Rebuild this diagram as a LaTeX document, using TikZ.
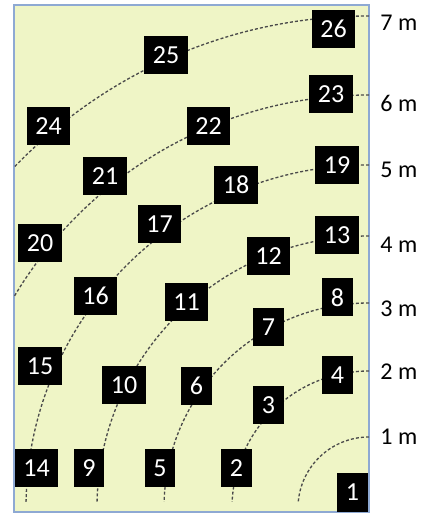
\documentclass[tikz,border=0pt]{standalone}
\usepackage{fontspec}
\setmainfont{Carlito}
\usepackage{tikz}
\usetikzlibrary{positioning,calc}
\definecolor{fieldGreen}{HTML}{EFF5C6}
\definecolor{edgeBlue}{HTML}{8EA9D3}
\definecolor{ringGrey}{HTML}{4A4A4A}

\begin{document}
\begin{tikzpicture}[
  field/.style={draw=edgeBlue,fill=fieldGreen,line width=0.8pt},
  ring/.style={draw=ringGrey,line width=0.75pt,dash pattern=on 1.7pt off 1.2pt},
  tag/.style={rectangle,fill=black,text=white,inner xsep=0.176cm,inner ysep=0pt,
    minimum height=0.76cm,font=\fontsize{14.8}{16}\selectfont},
  dist/.style={anchor=west,inner sep=0pt,font=\fontsize{13.7}{15}\selectfont}
]
\useasboundingbox (0,0) rectangle (8.44,10.28);
\coordinate (corner) at (7.38,0.12);

% field
\draw[field] (0.28,0.04) rectangle (7.38,10.18);

% distance rings
\begin{scope}
  \clip (0.28,0.24) rectangle (7.38,10.18);
  \foreach \r in {1.42,2.74,4.10,5.44,6.86,8.26,9.84}
    \draw[ring] ($(corner)+(0,\r)$) arc[start angle=90,end angle=180,radius=\r];
\end{scope}

% sensors
\foreach \n/\x/\y in {
1/7.05/0.43,2/4.73/0.92,3/5.37/2.18,4/6.75/2.77,5/3.20/0.92,
6/3.93/2.56,7/5.37/3.73,8/6.75/4.33,9/1.78/0.92,10/2.48/2.58,
11/3.73/4.23,12/5.37/5.15,13/6.74/5.57,14/0.73/0.92,15/0.80/2.95,
16/1.91/4.36,17/3.19/5.80,18/4.72/6.58,19/6.74/6.97,20/0.80/5.41,
21/2.10/6.75,22/4.17/7.75,23/6.62/8.40,24/0.97/7.75,25/3.32/9.18,
26/6.67/9.70}
  \node[tag] (s\n) at (\x,\y) {\n};

% distance labels
\foreach \d/\y in {1/1.54,2/2.84,3/4.10,4/5.38,5/6.88,6/8.22,7/9.82}
  \node[dist] (m\d) at (7.60,\y) {\d\ m};
\end{tikzpicture}
\end{document}
